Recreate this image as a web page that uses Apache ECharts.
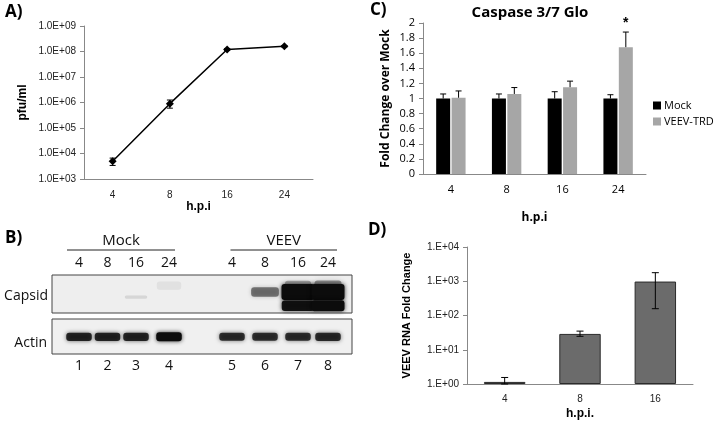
<!DOCTYPE html>
<html>
<head>
<meta charset="utf-8">
<script src="https://cdn.jsdelivr.net/npm/echarts@6/dist/echarts.min.js"></script>
<style>
  html, body { margin: 0; padding: 0; background: #fff; }
  #chart { width: 720px; height: 421px; }
</style>
</head>
<body>
<div id="chart"></div>
<script>
// A) virus titer
var hpiA = ['4', '8', '16', '24'];
var titerMean = [5e3, 9e5, 1.2e8, 1.6e8];
var titerLow = [3.4e3, 6e5, 1.1e8, 1.5e8];
var titerHigh = [6.6e3, 1.25e6, 1.3e8, 1.7e8];

// C) caspase 3/7
var hpiC = ['4', '8', '16', '24'];
var mockMean = [1, 1, 1, 1];
var mockErr = [0.06, 0.06, 0.09, 0.05];
var veevMean = [1.01, 1.06, 1.15, 1.68];
var veevErr = [0.09, 0.085, 0.08, 0.2];
var veevSig = [false, false, false, true];

// D) VEEV RNA
var hpiD = ['4', '8', '16'];
var rnaMean = [1.15, 29, 980];
var rnaLow = [1, 24.7, 158];
var rnaHigh = [1.55, 35, 1780];

// B) western blot (lane position, band intensity 0..1)
var lanePos = [0.9, 1.85, 2.8, 3.9, 6.0, 7.1, 8.2, 9.2];
var laneHpi = ['4', '8', '16', '24', '4', '8', '16', '24'];
var laneNum = ['1', '2', '3', '4', '5', '6', '7', '8'];
var capsidSmear = [0, 0, 0, 0.06, 0, 0, 0.3, 0.4];
var capsidUpper = [0, 0, 0, 0, 0, 0.5, 1, 1];
var capsidFaint = [0, 0, 0.1, 0, 0, 0, 0, 0];
var capsidLower = [0, 0, 0, 0, 0, 0, 0.95, 1];
var actin = [0.85, 0.85, 0.85, 1, 0.8, 0.8, 0.8, 0.82];
var blotGroups = [[0.5, 4.1, 'Mock'], [5.95, 9.5, 'VEEV']];

var axisGray = '#888';
var calib = '"Open Sans", sans-serif';
var arial = '"Liberation Sans", Arial, sans-serif';

function pad2(n) { return (n < 10 ? '0' : '') + n; }

var chart = echarts.init(document.getElementById('chart'));

function errBar(capHalf, offset) {
  return function (params, api) {
    var lo = api.coord([api.value(0), api.value(1)]);
    var hi = api.coord([api.value(0), api.value(2)]);
    var x = lo[0] + offset;
    var st = { stroke: '#000', lineWidth: 1 };
    return {
      type: 'group',
      children: [
        { type: 'line', shape: { x1: x, y1: lo[1], x2: x, y2: hi[1] }, style: st },
        { type: 'line', shape: { x1: x - capHalf, y1: hi[1], x2: x + capHalf, y2: hi[1] }, style: st },
        { type: 'line', shape: { x1: x - capHalf, y1: lo[1], x2: x + capHalf, y2: lo[1] }, style: st }
      ]
    };
  };
}

function upperErr(offset) {
  return function (params, api) {
    var lo = api.coord([api.value(0), api.value(1)]);
    var hi = api.coord([api.value(0), api.value(2)]);
    var x = lo[0] + offset;
    var st = { stroke: '#000', lineWidth: 1 };
    var kids = [
      { type: 'line', shape: { x1: x, y1: lo[1], x2: x, y2: hi[1] }, style: st },
      { type: 'line', shape: { x1: x - 3, y1: hi[1], x2: x + 3, y2: hi[1] }, style: st }
    ];
    if (api.value(3)) {
      kids.push({ type: 'text', x: x, y: hi[1] - 2, style: { text: '*', font: 'bold 14px ' + arial, fill: '#000', align: 'center', verticalAlign: 'bottom' } });
    }
    return { type: 'group', children: kids };
  };
}

function band(yVal, hBase, hGain, wBase, wGain, blur) {
  return function (params, api) {
    var k = api.value(1);
    if (k <= 0) return null;
    var c = api.coord([api.value(0), yVal]);
    var w = api.size([wBase + wGain * k, 0])[0];
    var h = hBase + hGain * k;
    return {
      type: 'rect',
      shape: { x: c[0] - w / 2, y: c[1] - h / 2, width: w, height: h, r: Math.min(h / 2, 3) },
      style: { fill: 'rgba(12,12,12,' + k + ')', shadowBlur: blur, shadowColor: 'rgba(0,0,0,' + (k * 0.8) + ')' }
    };
  };
}

var cBarW = 14, cGap = 0.1;
var cOff = cBarW * (1 + cGap) / 2;

var option = {
  animation: false,
  backgroundColor: '#fff',
  grid: [
    { left: 84, top: 26, width: 229, height: 153 },
    { left: 423, top: 23, width: 223, height: 151 },
    { left: 52, top: 275, width: 300, height: 38, show: true, backgroundColor: '#eeeeee', borderColor: '#444', borderWidth: 1 },
    { left: 52, top: 319, width: 300, height: 35, show: true, backgroundColor: '#f0f0f0', borderColor: '#444', borderWidth: 1 },
    { left: 467, top: 247, width: 226, height: 139 }
  ],
  legend: {
    orient: 'vertical', left: 648, top: 95, itemWidth: 8, itemHeight: 8, itemGap: 5,
    icon: 'rect', data: ['Mock', 'VEEV-TRD'],
    textStyle: { fontFamily: calib, fontSize: 11, color: '#000', padding: [0, 0, 0, -2] }
  },
  xAxis: [
    { gridIndex: 0, type: 'category', data: hpiA,
      name: 'h.p.i', nameLocation: 'middle', nameGap: 22,
      nameTextStyle: { fontFamily: arial, fontWeight: 'bold', fontSize: 12, color: '#000' },
      axisLine: { lineStyle: { color: axisGray } }, axisTick: { lineStyle: { color: axisGray } },
      axisLabel: { fontFamily: arial, fontSize: 10, color: '#222', margin: 11 } },
    { gridIndex: 1, type: 'category', data: hpiC,
      name: 'h.p.i', nameLocation: 'middle', nameGap: 38,
      nameTextStyle: { fontFamily: calib, fontWeight: 'bold', fontSize: 12, color: '#000' },
      axisLine: { lineStyle: { color: axisGray } }, axisTick: { lineStyle: { color: axisGray } },
      axisLabel: { fontFamily: calib, fontSize: 11, color: '#000', margin: 10 } },
    { gridIndex: 2, type: 'value', min: 0, max: 10, show: false },
    { gridIndex: 3, type: 'value', min: 0, max: 10, show: false },
    { gridIndex: 4, type: 'category', data: hpiD,
      name: 'h.p.i.', nameLocation: 'middle', nameGap: 24,
      nameTextStyle: { fontFamily: arial, fontWeight: 'bold', fontSize: 12, color: '#000' },
      axisLine: { lineStyle: { color: axisGray } }, axisTick: { lineStyle: { color: axisGray } },
      axisLabel: { fontFamily: arial, fontSize: 10, color: '#222', margin: 10 } }
  ],
  yAxis: [
    { gridIndex: 0, type: 'log', logBase: 10, min: 1e3, max: 1e9, interval: 1,
      name: 'pfu/ml', nameLocation: 'middle', nameGap: 55, nameRotate: 90,
      nameTextStyle: { fontFamily: arial, fontWeight: 'bold', fontSize: 12, color: '#000' },
      axisLine: { show: true, lineStyle: { color: axisGray } },
      axisTick: { show: true, length: 4, lineStyle: { color: axisGray } },
      splitLine: { show: false },
      axisLabel: { fontFamily: arial, fontSize: 10, color: '#222', margin: 8,
        formatter: function (v) { return '1.0E+' + pad2(Math.round(Math.log10(v))); } } },
    { gridIndex: 1, type: 'value', min: 0, max: 2, interval: 0.2,
      name: 'Fold Change over Mock', nameLocation: 'middle', nameGap: 31, nameRotate: 90,
      nameTextStyle: { fontFamily: calib, fontWeight: 'bold', fontSize: 12, color: '#000' },
      axisLine: { show: true, lineStyle: { color: axisGray } },
      axisTick: { show: true, length: 4, lineStyle: { color: axisGray } },
      splitLine: { show: false },
      axisLabel: { fontFamily: calib, fontSize: 11, color: '#000', margin: 8,
        formatter: function (v) { return String(+v.toFixed(1)); } } },
    { gridIndex: 2, type: 'value', min: 0, max: 1, show: false },
    { gridIndex: 3, type: 'value', min: 0, max: 1, show: false },
    { gridIndex: 4, type: 'log', logBase: 10, min: 1, max: 1e4, interval: 1,
      name: 'VEEV RNA Fold Change', nameLocation: 'middle', nameGap: 55, nameRotate: 90,
      nameTextStyle: { fontFamily: arial, fontWeight: 'bold', fontSize: 11, color: '#000' },
      axisLine: { show: true, lineStyle: { color: axisGray } },
      axisTick: { show: true, length: 4, lineStyle: { color: axisGray } },
      splitLine: { show: false },
      axisLabel: { fontFamily: arial, fontSize: 10, color: '#222', margin: 8,
        formatter: function (v) { return '1.E+' + pad2(Math.round(Math.log10(v))); } } }
  ],
  series: [
    { type: 'line', xAxisIndex: 0, yAxisIndex: 0, data: titerMean,
      symbol: 'diamond', symbolSize: 8, lineStyle: { color: '#000', width: 1.5 },
      itemStyle: { color: '#000' }, z: 3 },
    { type: 'custom', xAxisIndex: 0, yAxisIndex: 0, renderItem: errBar(3, 0),
      data: hpiA.map(function (c, i) { return [i, titerLow[i], titerHigh[i]]; }), z: 2 },

    { name: 'Mock', type: 'bar', xAxisIndex: 1, yAxisIndex: 1, data: mockMean,
      barWidth: cBarW, barGap: (cGap * 100) + '%', itemStyle: { color: '#000' } },
    { name: 'VEEV-TRD', type: 'bar', xAxisIndex: 1, yAxisIndex: 1, data: veevMean,
      barWidth: cBarW, barGap: (cGap * 100) + '%', itemStyle: { color: '#a6a6a6' } },
    { type: 'custom', xAxisIndex: 1, yAxisIndex: 1, renderItem: upperErr(-cOff),
      data: hpiC.map(function (c, i) { return [i, mockMean[i], mockMean[i] + mockErr[i], 0]; }), z: 3 },
    { type: 'custom', xAxisIndex: 1, yAxisIndex: 1, renderItem: upperErr(cOff),
      data: hpiC.map(function (c, i) { return [i, veevMean[i], veevMean[i] + veevErr[i], veevSig[i] ? 1 : 0]; }), z: 3 },

    { type: 'custom', xAxisIndex: 2, yAxisIndex: 2, renderItem: band(0.72, 8, 6, 0.8, 0.25, 6),
      data: lanePos.map(function (p, i) { return [p, capsidSmear[i]]; }) },
    { type: 'custom', xAxisIndex: 2, yAxisIndex: 2, renderItem: band(0.55, 3, 13, 0.75, 0.35, 4),
      data: lanePos.map(function (p, i) { return [p, capsidUpper[i]]; }) },
    { type: 'custom', xAxisIndex: 2, yAxisIndex: 2, renderItem: band(0.42, 3, 2, 0.75, 0, 5),
      data: lanePos.map(function (p, i) { return [p, capsidFaint[i]]; }) },
    { type: 'custom', xAxisIndex: 2, yAxisIndex: 2, renderItem: band(0.19, 1, 10, 0.75, 0.35, 4),
      data: lanePos.map(function (p, i) { return [p, capsidLower[i]]; }) },
    { type: 'custom', xAxisIndex: 2, yAxisIndex: 2, clip: false,
      renderItem: function (params, api) {
        var c = api.coord([api.value(0), 1]);
        return { type: 'text', x: c[0], y: c[1] - 12,
          style: { text: laneHpi[params.dataIndex], font: '14px ' + calib, fill: '#111', align: 'center', verticalAlign: 'middle' } };
      },
      data: lanePos.map(function (p) { return [p]; }) },
    { type: 'custom', xAxisIndex: 2, yAxisIndex: 2, clip: false,
      renderItem: function (params, api) {
        var a = api.coord([api.value(0), 1]);
        var b = api.coord([api.value(1), 1]);
        var name = blotGroups[params.dataIndex][2];
        return { type: 'group', children: [
          { type: 'line', shape: { x1: a[0], y1: a[1] - 25, x2: b[0], y2: b[1] - 25 }, style: { stroke: '#222', lineWidth: 1 } },
          { type: 'text', x: (a[0] + b[0]) / 2, y: a[1] - 34,
            style: { text: name, font: '15px ' + calib, fill: '#111', align: 'center', verticalAlign: 'middle' } }
        ] };
      },
      data: blotGroups.map(function (g) { return [g[0], g[1]]; }) },

    { type: 'custom', xAxisIndex: 3, yAxisIndex: 3, renderItem: band(0.49, 4, 5, 0.85, 0, 4),
      data: lanePos.map(function (p, i) { return [p, actin[i]]; }) },
    { type: 'custom', xAxisIndex: 3, yAxisIndex: 3, clip: false,
      renderItem: function (params, api) {
        var c = api.coord([api.value(0), 0]);
        return { type: 'text', x: c[0], y: c[1] + 12,
          style: { text: laneNum[params.dataIndex], font: '14px ' + calib, fill: '#111', align: 'center', verticalAlign: 'middle' } };
      },
      data: lanePos.map(function (p) { return [p]; }) },

    { type: 'bar', xAxisIndex: 4, yAxisIndex: 4, data: rnaMean, barWidth: '55%',
      itemStyle: { color: '#6b6b6b', borderColor: '#2b2b2b', borderWidth: 1 } },
    { type: 'custom', xAxisIndex: 4, yAxisIndex: 4, renderItem: errBar(3.5, 0),
      data: hpiD.map(function (c, i) { return [i, rnaLow[i], rnaHigh[i]]; }), z: 3 }
  ],
  graphic: [
    { type: 'text', left: 5, top: 4, style: { text: 'A)', font: 'bold 17px ' + calib, fill: '#000' } },
    { type: 'text', left: 5, top: 230, style: { text: 'B)', font: 'bold 17px ' + calib, fill: '#000' } },
    { type: 'text', left: 370, top: 2, style: { text: 'C)', font: 'bold 17px ' + calib, fill: '#000' } },
    { type: 'text', left: 368, top: 222, style: { text: 'D)', font: 'bold 17px ' + calib, fill: '#000' } },
    { type: 'text', x: 530, y: 13, style: { text: 'Caspase 3/7 Glo', font: 'bold 15px ' + calib, fill: '#000', align: 'center', verticalAlign: 'middle' } },
    { type: 'text', x: 48, y: 296, style: { text: 'Capsid', font: '14px ' + calib, fill: '#111', align: 'right', verticalAlign: 'middle' } },
    { type: 'text', x: 47, y: 343, style: { text: 'Actin', font: '14px ' + calib, fill: '#111', align: 'right', verticalAlign: 'middle' } }
  ]
};

chart.setOption(option);
</script>
</body>
</html>
